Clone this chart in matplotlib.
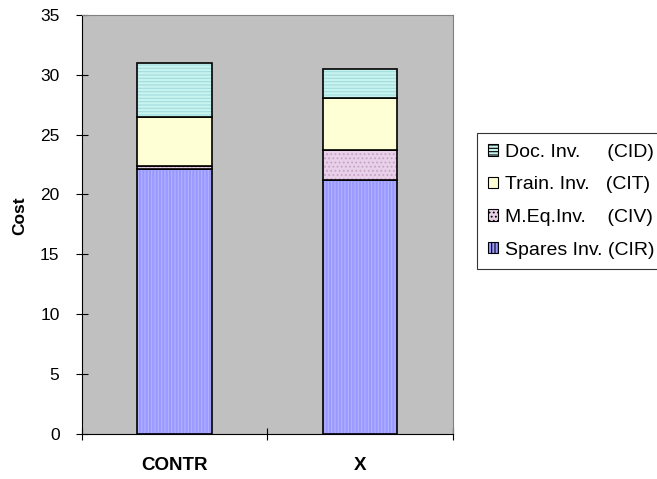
import matplotlib.pyplot as plt
from matplotlib.patches import Patch

categories = ["CONTR", "X"]
spares = [22.15, 21.25]
meq = [0.25, 2.45]
train = [4.05, 4.35]
doc = [4.55, 2.45]

series = [
    ("Spares Inv. (CIR)", spares, "#9999ff", "#b3b3ff", "|||||"),
    ("M.Eq.Inv.    (CIV)", meq, "#e8d0e8", "#c8a0c8", "...."),
    ("Train. Inv.   (CIT)", train, "#ffffd5", "#ffffd5", ""),
    ("Doc. Inv.     (CID)", doc, "#c8f4f0", "#a0dcdc", "-----"),
]

plt.rcParams["font.family"] = ["Liberation Sans", "DejaVu Sans"]
plt.rcParams["hatch.linewidth"] = 0.8

fig = plt.figure(figsize=(6.57, 4.79), dpi=100)
ax = fig.add_axes([0.1244, 0.0946, 0.5651, 0.874])
ax.set_facecolor("#c0c0c0")

x = [0.5, 1.5]
bottom = [0, 0]
handles = []
for label, vals, fc, hc, hatch in series:
    ax.bar(x, vals, 0.4, bottom=bottom, color=fc, edgecolor=hc, hatch=hatch, linewidth=0)
    ax.bar(x, vals, 0.4, bottom=bottom, fill=False, edgecolor="black", linewidth=1.2)
    handles.append(Patch(facecolor=fc, edgecolor="black", hatch=hatch, linewidth=0.8, label=label))
    bottom = [b + v for b, v in zip(bottom, vals)]

ax.set_xlim(0, 2)
ax.set_ylim(0, 35)
ax.set_yticks(range(0, 36, 5))
ax.set_xticks([0, 1, 2])
ax.set_xticklabels([])
ax.set_xticks(x, minor=True)
ax.set_xticklabels(categories, minor=True, fontweight="bold", fontsize=13.5)
ax.tick_params(axis="x", which="minor", length=0, pad=17)
ax.tick_params(axis="x", which="major", length=8.5, direction="inout")
ax.tick_params(axis="y", length=8, direction="inout", labelsize=12.5, pad=12)
ax.set_ylabel("Cost", fontweight="bold", fontsize=12.5)
ax.yaxis.set_label_coords(-0.148, 0.52)

for s in ["top", "right"]:
    ax.spines[s].set_color("#808080")
for s in ["left", "bottom"]:
    ax.spines[s].set_color("black")

leg = fig.legend(handles=handles[::-1], loc="upper left", bbox_to_anchor=(0.726, 0.7223),
                 frameon=True, fancybox=False, fontsize=14, handlelength=0.52, handleheight=0.52,
                 handletextpad=0.35, labelspacing=0.8, borderpad=0.56, borderaxespad=0,
                 edgecolor="black")
leg.get_frame().set_linewidth(0.8)

fig.savefig("out.png", dpi=100)
